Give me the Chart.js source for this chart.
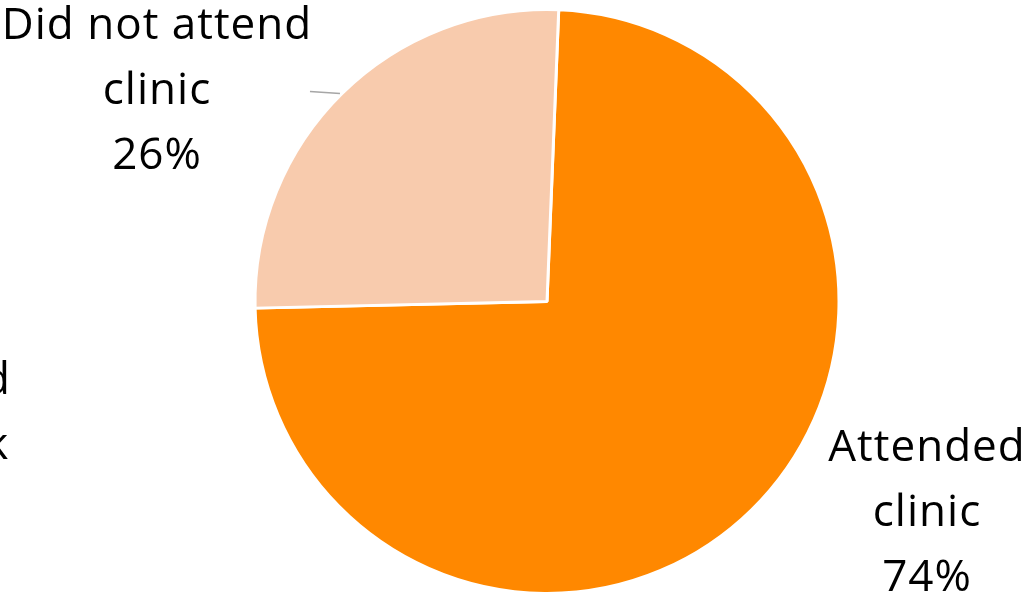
<!DOCTYPE html>
<html>
<head>
<meta charset="utf-8">
<script src="https://cdn.jsdelivr.net/npm/chart.js@4"></script>
<style>
  html, body { margin: 0; padding: 0; background: #fff; overflow: hidden; }
  #pie { display: block; }
</style>
</head>
<body>
<canvas id="pie" width="1028" height="595"></canvas>
<script>
// donnees
const categories = ['Attended clinic', 'Did not attend clinic'];
const percents = [74, 26];
const sliceColors = ['#FF8800', '#F8CBAD'];

// position des etiquettes par rapport au centre du camembert
const labelOffsets = [
    { dx: 380, dy: 159, lines: ['Attended', 'clinic'] },
    { dx: -390, dy: -263, lines: ['Did not attend', 'clinic'] }
];

const labelPlugin = {
    id: 'pieLabels',
    afterDraw(chart) {
        const ctx = chart.ctx;
        const arc = chart.getDatasetMeta(0).data[0];
        const cx = arc.x, cy = arc.y;
        ctx.save();
        ctx.font = '44px "Open Sans"';
        ctx.letterSpacing = '1px';
        ctx.fillStyle = '#000';
        ctx.textAlign = 'center';
        ctx.textBaseline = 'alphabetic';
        labelOffsets.forEach(function (lab, i) {
            const txt = lab.lines.concat([percents[i] + '%']);
            for (let k = 0; k < txt.length; k++) {
                ctx.fillText(txt[k], cx + lab.dx, cy + lab.dy + k * 65);
            }
        });
        // etiquette coupee a gauche
        ctx.textAlign = 'right';
        ctx.fillText('Referred', 11, cy + 92);
        ctx.fillText('back', 9, cy + 157);
        // trait de rappel
        ctx.letterSpacing = '0px';
        ctx.strokeStyle = '#A6A6A6';
        ctx.lineWidth = 1.5;
        ctx.beginPath();
        ctx.moveTo(cx - 237, cy - 210);
        ctx.lineTo(cx - 207, cy - 208);
        ctx.stroke();
        ctx.restore();
    }
};

const ctx = document.getElementById('pie').getContext('2d');
const myChart = new Chart(ctx, {
    type: 'pie',
    data: {
        labels: categories,
        datasets: [{
            data: percents,
            backgroundColor: sliceColors,
            borderColor: '#FFFFFF',
            borderWidth: 3
        }]
    },
    options: {
        responsive: false,
        animation: false,
        rotation: 2.3,
        radius: 292,
        layout: { padding: { left: 66, right: 0, top: 8, bottom: 0 } },
        plugins: {
            legend: { display: false },
            tooltip: { enabled: false }
        }
    },
    plugins: [labelPlugin]
});
</script>
</body>
</html>
